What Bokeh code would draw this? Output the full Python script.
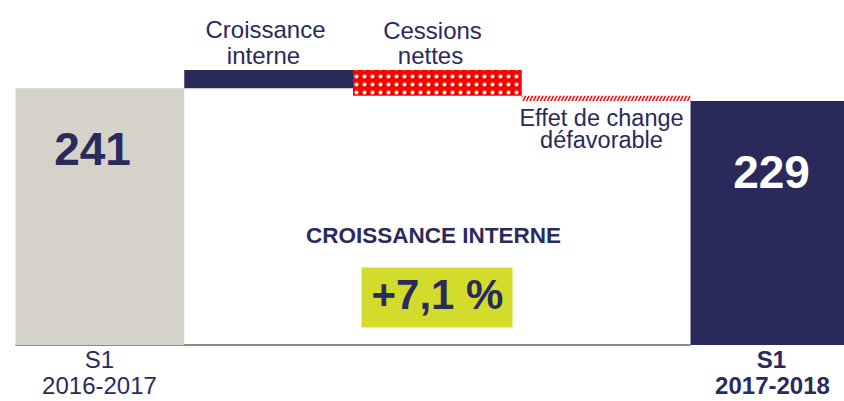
from bokeh.plotting import figure
from bokeh.models import Range1d
from bokeh.core.properties import value
from bokeh.embed import file_html
from bokeh.resources import INLINE

# ---- data ----
categories = ["S1 2016-2017", "Croissance interne", "Cessions nettes", "Effet de change", "S1 2017-2018"]
start_value = 241
changes = [17, -24, -5]
end_value = 229
growth_label = "+7,1 %"

# waterfall geometry from the data
bottoms = [0]
tops = [start_value]
level = start_value
for c in changes:
    new = level + c
    bottoms.append(min(level, new))
    tops.append(max(level, new))
    level = new
bottoms.append(0)
tops.append(end_value)
xs = list(range(len(categories)))

# ---- layout ----
W, H = 844, 401
SLOT = 168.75
X0 = -0.5 - 15 / SLOT
X1 = X0 + W / SLOT
SCALE = 1.0656
Y1 = 344.5 / SCALE
Y0 = Y1 - H / SCALE

def px(x):  # picture pixel -> data x
    return X0 + x / W * (X1 - X0)

def py(y):  # picture pixel -> data y
    return Y1 - y / H * (Y1 - Y0)

p = figure(width=W, height=H, x_range=Range1d(X0, X1), y_range=Range1d(Y0, Y1),
           output_backend="svg", toolbar_location=None, min_border=0,
           background_fill_color="white", border_fill_color="white")
p.outline_line_color = None
p.axis.visible = False
p.grid.visible = False

NAVY = "#2b2a5c"
FONT = value("Liberation Sans")

# baseline
p.segment(x0=[xs[0] - 0.5], y0=[0], x1=[xs[-1] - 0.5], y1=[0], line_color="#8a8a8a", line_width=2)

# start bar
p.vbar(x=[xs[0]], bottom=[bottoms[0]], top=[tops[0]], width=1, fill_color="#d5d2ca", line_color=None)
# croissance interne
p.vbar(x=[xs[1]], bottom=[bottoms[1]], top=[tops[1]], width=1, fill_color="#2a2a5a", line_color=None)
# cessions nettes (red with white dots)
p.vbar(x=[xs[2]], bottom=[bottoms[2]], top=[tops[2]], width=1, fill_color="#ff0000", line_color=None,
       hatch_pattern="dot", hatch_color="white", hatch_scale=8, hatch_weight=1.5)
# effet de change (red diagonal stripes)
p.vbar(x=[xs[3]], bottom=[bottoms[3]], top=[tops[3]], width=1, fill_color="white", line_color=None,
       hatch_pattern="right_diagonal_line", hatch_color="#ff0000", hatch_scale=7, hatch_weight=1.5)
# end bar
p.vbar(x=[xs[4]], bottom=[bottoms[4]], top=[tops[4]], width=1, fill_color="#2a2a5a", line_color=None)

def txt(x, y, s, size, color=NAVY, bold=False):
    # y is the wanted baseline in picture pixels; compensate renderer offset
    yy = y - 0.4 * size
    p.text(x=[px(x)], y=[py(yy)], text=[s], text_font=FONT, text_font_size=f"{size}px",
           text_color=color, text_align="center", text_baseline="alphabetic",
           text_font_style="bold" if bold else "normal")

# category labels above bars
txt(265, 39, "Croissance", 24)
txt(263, 65, "interne", 24)
txt(432, 40, "Cessions", 24)
txt(430, 65, "nettes", 24)
txt(601, 127, "Effet de change", 23.5)
txt(601, 149, "défavorable", 23.5)

# values
txt(92, 167, str(start_value), 46, bold=True)
txt(771, 190, str(end_value), 46, color="white", bold=True)

# growth callout
txt(433, 244, "CROISSANCE INTERNE", 22.5, bold=True)
p.quad(left=[px(361)], right=[px(512)], top=[py(267)], bottom=[py(327)], fill_color="#d4dc2b", line_color=None)
txt(437, 311, growth_label, 42, bold=True)

# bottom labels
txt(99, 369, "S1", 24)
txt(99, 395, "2016-2017", 24)
txt(771, 369, "S1", 24, bold=True)
txt(772, 395, "2017-2018", 24, bold=True)

open("out.html", "w").write(file_html(p, INLINE))
